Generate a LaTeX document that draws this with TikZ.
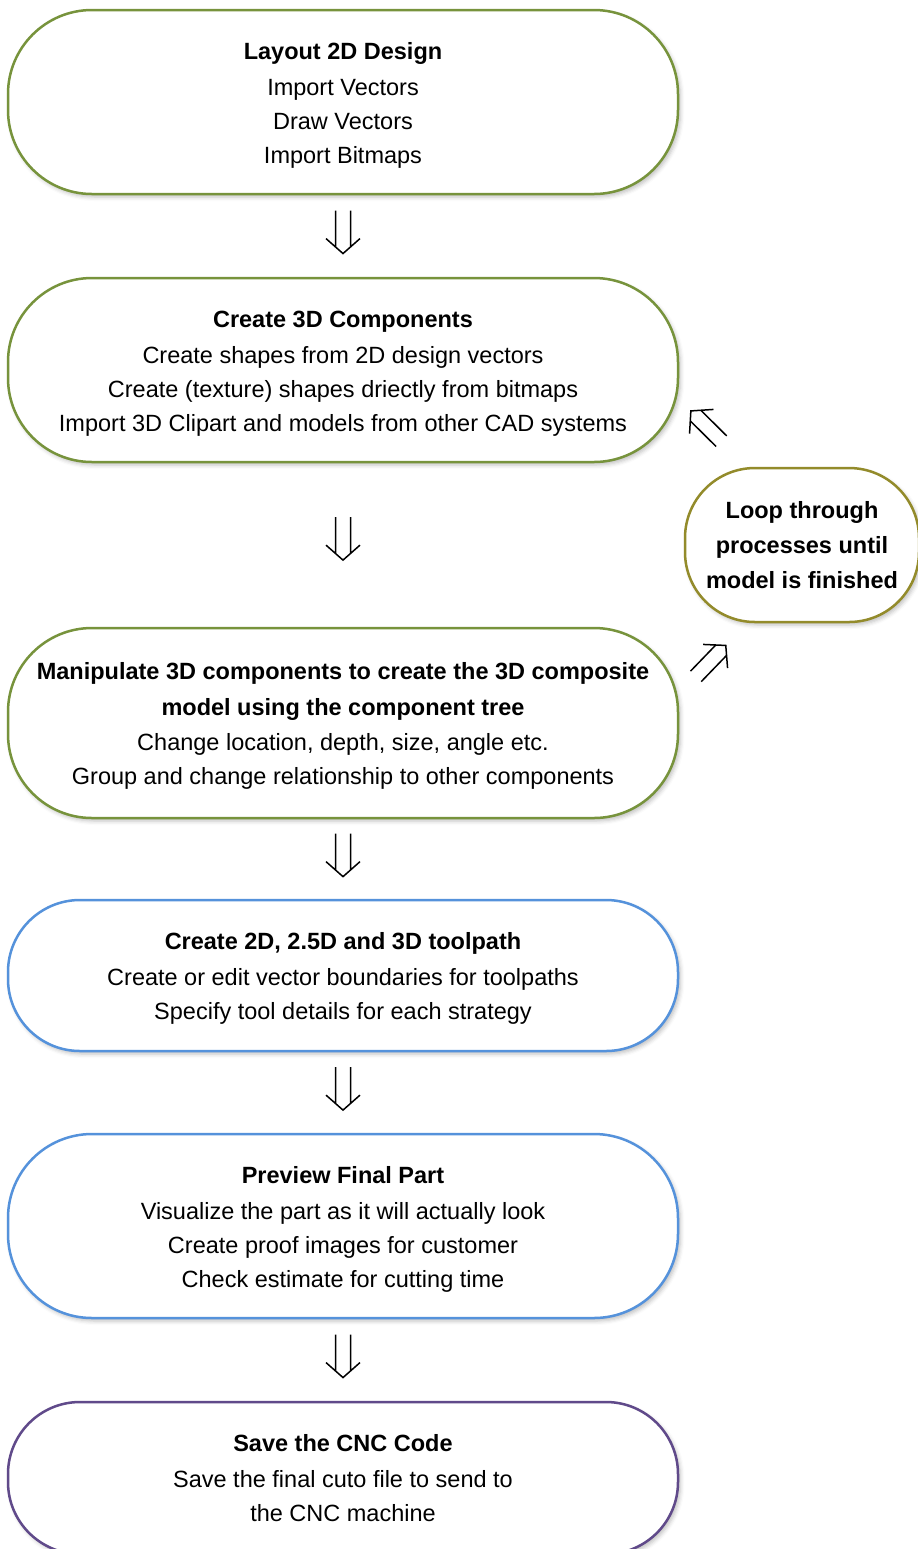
\documentclass[tikz,border=0pt]{standalone}
\usepackage{fontspec}
\setmainfont{Liberation Sans}
\usetikzlibrary{calc,shadows.blur}
\definecolor{stepgreen}{HTML}{77933C}
\definecolor{stepblue}{HTML}{5592DB}
\definecolor{steppurple}{HTML}{604A8A}
\definecolor{loopolive}{HTML}{938B2B}
\newcommand\steptitle[1]{\textbf{\strut#1}}
\tikzset{
  line join=miter, % sharp tips on the double arrows
  stepfont/.style={font=\fontsize{11.75}{17}\selectfont}
}

\begin{document}
\begin{tikzpicture}[x=0.5pt,y=0.5pt,
	box/.style={draw, line width=1.25pt, rectangle, fill=white, minimum width=335pt, minimum height=92pt,
	  align=center, rounded corners=42pt, stepfont,
	  blur shadow={shadow xshift=1.2pt, shadow yshift=-1.5pt, shadow opacity=25, shadow blur radius=2pt}},
	flow/.style={line width=0.75pt, to path={let \p1=(\tikztostart), \p2=(\tikztotarget),
	  \n1={atan2(\y2-\y1,\x2-\x1)} in ($(\p1)!#1!(\p2)$) coordinate (m) [shift={(m)}, rotate=\n1]
	  (-23,-7.5) -- (13.4,-7.5) (-23,7.5) -- (13.4,7.5) (5,-17) -- (20,0) -- (5,17)}},
	flow/.default=0.47
]
\useasboundingbox (0,0) rectangle (917,-1549);

% The boxes
\node[box, draw=stepgreen] (layout) at (343,-102)
  {\steptitle{Layout 2D Design}\\[1pt] Import Vectors\\ Draw Vectors\\ Import Bitmaps};
\node[box, draw=stepgreen] (create) at (343,-370)
  {\steptitle{Create 3D Components}\\[1pt] Create shapes from 2D design vectors\\
   Create (texture) shapes driectly from bitmaps\\ Import 3D Clipart and models from other CAD systems};
\node[box, draw=stepgreen, minimum height=95pt] (manip) at (343,-723)
  {\steptitle{Manipulate 3D components to create the 3D composite}\\[1pt]
   \textbf{model using the component tree}\\[0.5pt] Change location, depth, size, angle etc.\\
   Group and change relationship to other components};
\node[box, draw=stepblue, minimum height=75.5pt, rounded corners=36pt] (toolpath) at (343,-975.5)
  {\steptitle{Create 2D, 2.5D and 3D toolpath}\\[1pt] Create or edit vector boundaries for toolpaths\\
   Specify tool details for each strategy};
\node[box, draw=stepblue] (preview) at (343,-1226)
  {\steptitle{Preview Final Part}\\[1pt] Visualize the part as it will actually look\\
   Create proof images for customer\\ Check estimate for cutting time};
\node[box, draw=steppurple, minimum height=76pt, rounded corners=36pt] (save) at (343,-1478)
  {\textbf{Save the CNC Code}\\[1pt] Save the final cuto file to send to\\ the CNC machine};

\node[box, draw=loopolive, minimum width=117pt, minimum height=77pt, rounded corners=35pt,
  font=\fontsize{11.75}{17.5}\selectfont\bfseries] (loop) at (802,-545)
  {Loop through\\ processes until\\ model is finished};

% The connections
\draw[flow] (layout.south) to (create.north);
\draw[flow] (create.south) to (manip.north);
\draw[flow] (manip.south) to (toolpath.north);
\draw[flow] (toolpath.south) to (preview.north);
\draw[flow] (preview.south) to (save.north);

\draw[flow=0.48] (manip.5) to (loop.235);
\draw[flow=0.62] (loop.125) to (create.-5);

\end{tikzpicture}
\end{document}
